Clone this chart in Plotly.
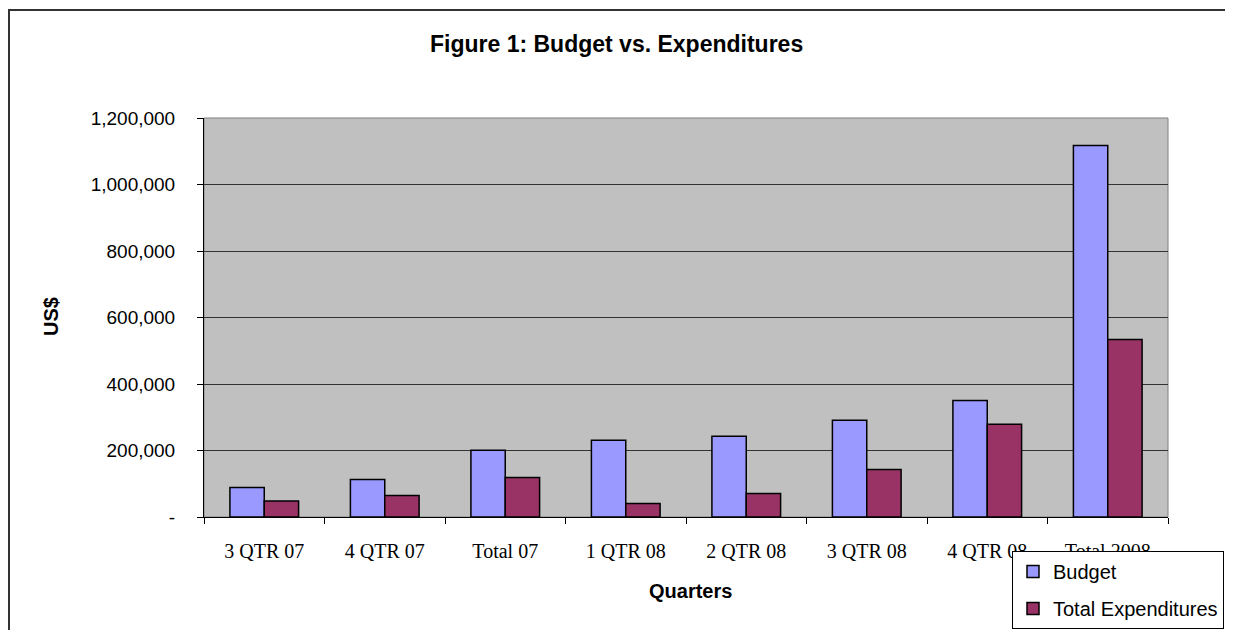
import plotly.graph_objects as go

categories = ["3 QTR 07", "4 QTR 07", "Total 07", "1 QTR 08", "2 QTR 08", "3 QTR 08", "4 QTR 08", "Total 2008"]
budget = [88600, 112600, 201000, 231000, 243000, 291000, 350500, 1117000]
expenditures = [48200, 64400, 118600, 40300, 70400, 142700, 279000, 534000]
y_tick_vals = [0, 200000, 400000, 600000, 800000, 1000000, 1200000]
y_tick_text = ["-", "200,000", "400,000", "600,000", "800,000", "1,000,000", "1,200,000"]

# page body has an 8px margin; work in screen coordinates and shift
OFF = 8
W, H = 1233 - OFF, 630 - OFF
L, R, T, B = 204, 1168, 118, 517  # plot area in screen coords


def px(x):
    return (x - L) / (R - L)


def py(y):
    return (B - y) / (B - T)


ARIAL = "Arial, Liberation Sans, sans-serif"
SERIF = "Times New Roman, Liberation Serif, serif"

fig = go.Figure()
fig.add_trace(go.Bar(x=categories, y=budget, name="Budget",
                     marker=dict(color="#9999FF", line=dict(color="black", width=1.5)),
                     legendgroup="a"))
fig.add_trace(go.Bar(x=categories, y=expenditures, name="Total Expenditures",
                     marker=dict(color="#993366", line=dict(color="black", width=1.5)),
                     legendgroup="b"))

fig.update_layout(
    width=W, height=H,
    margin=dict(l=L - OFF, r=1233 - R, t=T - OFF, b=630 - B, pad=0, autoexpand=False),
    paper_bgcolor="white",
    plot_bgcolor="#C0C0C0",
    barmode="group",
    bargap=0.43,
    bargroupgap=0,
    font=dict(family=ARIAL, size=18, color="black"),
    showlegend=True,
    legend=dict(x=px(1012), y=py(551), xanchor="left", yanchor="top",
                bgcolor="white", bordercolor="black", borderwidth=1,
                font=dict(family=ARIAL, size=20),
                tracegroupgap=8, itemwidth=30),
    xaxis=dict(
        type="category",
        automargin=False,
        showgrid=False,
        showline=True, linecolor="black", linewidth=1,
        ticks="outside", tickson="boundaries", ticklen=6, tickcolor="black",
        tickfont=dict(family=SERIF, size=20),
        ticklabelstandoff=16,
        fixedrange=True,
    ),
    yaxis=dict(
        automargin=False,
        range=[0, 1200000],
        tickvals=y_tick_vals, ticktext=y_tick_text,
        showgrid=True, gridcolor="#333333", gridwidth=1,
        showline=True, linecolor="black", linewidth=1,
        ticks="outside", ticklen=6, tickcolor="black",
        tickfont=dict(family=ARIAL, size=19),
        ticklabelstandoff=18,
        zeroline=False,
        fixedrange=True,
    ),
    shapes=[
        dict(type="rect", xref="paper", yref="paper", x0=px(9), x1=px(1250), y0=py(650), y1=py(10),
             line=dict(color="#333333", width=2), fillcolor="rgba(0,0,0,0)", layer="below"),
        dict(type="rect", xref="paper", yref="paper", x0=0, x1=1, y0=0, y1=1,
             line=dict(color="#808080", width=1), fillcolor="rgba(0,0,0,0)", layer="below"),
    ],
    annotations=[
        dict(text="<b>Figure 1: Budget vs. Expenditures</b>", xref="paper", yref="paper",
             x=px(616), y=py(44), xanchor="center", yanchor="middle", showarrow=False,
             font=dict(family=ARIAL, size=23)),
        dict(text="<b>Quarters</b>", xref="paper", yref="paper",
             x=px(690), y=py(591), xanchor="center", yanchor="middle", showarrow=False,
             font=dict(family=ARIAL, size=20)),
        dict(text="<b>US$</b>", xref="paper", yref="paper", textangle=-90,
             x=px(51), y=py(317), xanchor="center", yanchor="middle", showarrow=False,
             font=dict(family=ARIAL, size=20)),
    ],
)

fig.write_html("out.html")
